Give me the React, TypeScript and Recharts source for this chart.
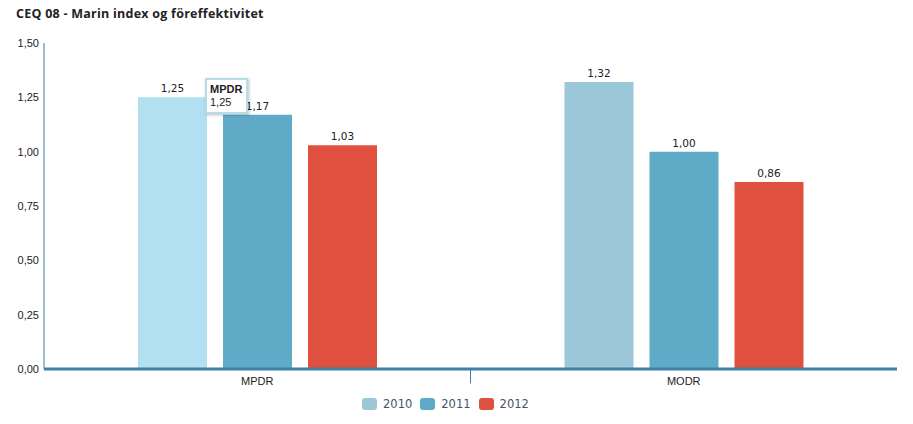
import { BarChart, Bar, XAxis, YAxis, Tooltip, Cell, LabelList, ReferenceLine } from 'recharts';

const categories = ['MPDR', 'MODR'];
const years = ['2010', '2011', '2012'];
const values2010 = [1.25, 1.32];
const values2011 = [1.17, 1.0];
const values2012 = [1.03, 0.86];
const yTicks = [0, 0.25, 0.5, 0.75, 1.0, 1.25, 1.5];

const colors = ['#9bc7d8', '#5faac6', '#e0503e'];
const hoverColor = '#b3e0f0';
const axisColor = '#3d7fa6';

const data = categories.map((name, i) => ({
  name,
  pos: i + 0.5,
  '2010': values2010[i],
  '2011': values2011[i],
  '2012': values2012[i],
}));

const fmt = (v: any) => Number(v).toFixed(2).replace('.', ',');

function TipBox({ payload, label }: any) {
  if (!payload || !payload.length) return null;
  const first = payload[0];
  return (
    <div
      style={{
        background: '#fff',
        border: '2px solid #b7dbe8',
        boxShadow: '1px 1px 3px rgba(0,0,0,0.25)',
        padding: '3px 4px 3px 3px',
        fontFamily: 'Liberation Sans, Arial, sans-serif',
        fontSize: 11,
        lineHeight: '13px',
        color: '#222',
      }}
    >
      <div style={{ fontWeight: 'bold' }}>{label}</div>
      <div>{fmt(first.value)}</div>
    </div>
  );
}

function LegendRow() {
  return (
    <div style={{ position: 'absolute', left: 362, top: 398, display: 'flex', gap: 8 }}>
      {years.map((y, i) => (
        <div key={y} style={{ display: 'flex', alignItems: 'center', height: 12 }}>
          <span
            style={{
              display: 'inline-block',
              width: 15,
              height: 12,
              borderRadius: 3,
              background: colors[i],
              marginRight: 6,
            }}
          />
          <span style={{ fontFamily: 'DejaVu Sans, sans-serif', fontSize: 11.5, color: '#44546b' }}>{y}</span>
        </div>
      ))}
    </div>
  );
}

export default function App() {
  return (
    <div style={{ position: 'absolute', left: 0, top: 0, width: 913, height: 424, background: '#fff' }}>
      <div
        style={{
          position: 'absolute',
          left: 16,
          top: 5,
          fontFamily: 'Open Sans, sans-serif',
          fontWeight: 'bold',
          fontSize: 12.5,
          letterSpacing: 0.25,
          color: '#222',
        }}
      >
        CEQ 08 - Marin index og föreffektivitet
      </div>
      <BarChart
        width={913}
        height={424}
        data={data}
        margin={{ top: 43, right: 16, bottom: 0, left: 0 }}
        barSize={69}
        barGap={16}
      >
        <XAxis
          dataKey="name"
          axisLine={{ stroke: axisColor, strokeWidth: 3 }}
          tickLine={false}
          tick={{ fontFamily: 'Liberation Sans, Arial, sans-serif', fontSize: 11, fill: '#222' }}
          tickMargin={2}
          height={55}
        />
        <XAxis xAxisId="divider" type="number" dataKey="pos" domain={[0, 2]} hide />
        <YAxis
          domain={[0, 1.5]}
          ticks={yTicks}
          width={44}
          axisLine={{ stroke: axisColor }}
          tickLine={false}
          tickSize={3}
          tickMargin={2}
          tickFormatter={fmt}
          tick={{ fontFamily: 'Liberation Sans, Arial, sans-serif', fontSize: 11, fill: '#222' }}
        />
        <ReferenceLine
          xAxisId="divider"
          segment={[
            { x: 1, y: 0 },
            { x: 1, y: -0.066 },
          ]}
          stroke={axisColor}
          ifOverflow="visible"
        />
        <Tooltip
          active
          defaultIndex={0}
          cursor={false}
          position={{ x: 205, y: 78 }}
          content={<TipBox />}
          isAnimationActive={false}
        />
        {years.map((y, i) => (
          <Bar key={y} dataKey={y} fill={colors[i]} isAnimationActive={false} activeBar={false}>
            {i === 0 && data.map((d, j) => <Cell key={d.name} fill={j === 0 ? hoverColor : colors[0]} />)}
            <LabelList
              dataKey={y}
              position="top"
              offset={5}
              formatter={fmt}
              style={{ fontFamily: 'DejaVu Sans, sans-serif', fontSize: 10.5, fill: '#222' }}
            />
          </Bar>
        ))}
      </BarChart>
      <LegendRow />
    </div>
  );
}
